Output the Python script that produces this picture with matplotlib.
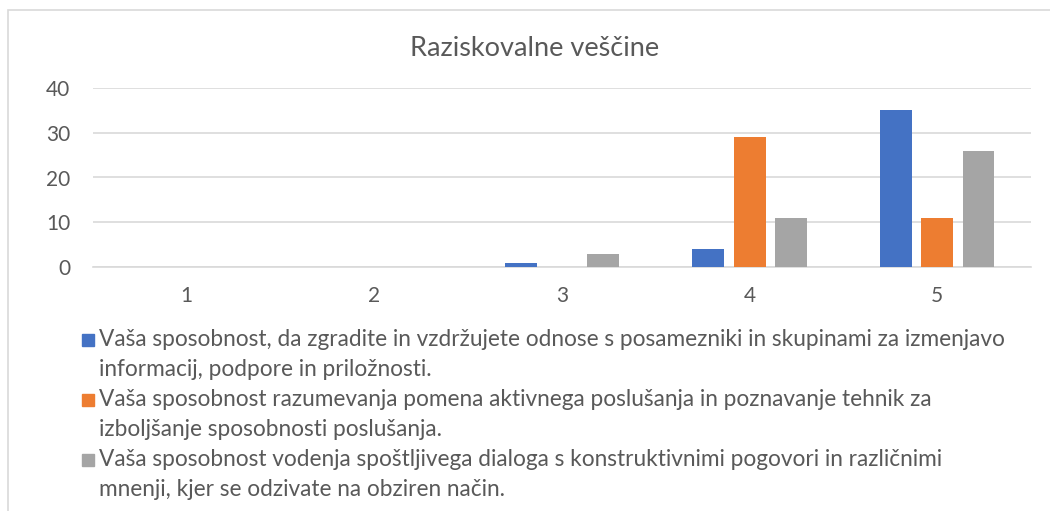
import matplotlib
matplotlib.use("Agg")
import matplotlib.pyplot as plt
import numpy as np
from matplotlib.patches import Rectangle

categories = ["1", "2", "3", "4", "5"]
series_labels = [
    "Vaša sposobnost, da zgradite in vzdržujete odnose s posamezniki in skupinami za izmenjavo\ninformacij, podpore in priložnosti.",
    "Vaša sposobnost razumevanja pomena aktivnega poslušanja in poznavanje tehnik za\nizboljšanje sposobnosti poslušanja.",
    "Vaša sposobnost vodenja spoštljivega dialoga s konstruktivnimi pogovori in različnimi\nmnenji, kjer se odzivate na obziren način.",
]
series_a = [0, 0, 1, 4, 35]
series_b = [0, 0, 0, 29, 11]
series_c = [0, 0, 3, 11, 26]
colors = ["#4472C4", "#ED7D31", "#A5A5A5"]
title = "Raziskovalne veščine"
yticks = [0, 10, 20, 30, 40]

plt.rcParams['font.family'] = ['Lato', 'DejaVu Sans']
txt = "#595959"

W, H = 1050, 511
fig = plt.figure(figsize=(W/100, H/100), dpi=100)
fig.patches.append(Rectangle((8/W, -0.5), 1.5, 1.5 - 10/H, transform=fig.transFigure,
                             fill=False, edgecolor="#D9D9D9", linewidth=1.2))

ax = fig.add_axes([93/W, 1 - 267/H, (1031-93)/W, (267-88)/H])
x = np.arange(len(categories))
bw = 0.17
off = 0.22
for i, vals in enumerate([series_a, series_b, series_c]):
    ax.bar(x + (i-1)*off, vals, width=bw, color=colors[i], zorder=3)

ax.set_xlim(-0.5, len(categories) - 0.5)
ax.set_ylim(0, 40)
ax.set_yticks(yticks)
ax.set_xticks(x)
ax.set_xticklabels(categories)
ax.yaxis.grid(True, color="#D9D9D9", linewidth=1.2, zorder=0)
for s in ["top", "right", "left"]:
    ax.spines[s].set_visible(False)
ax.spines["bottom"].set_color("#D9D9D9")
ax.spines["bottom"].set_linewidth(1.2)
ax.tick_params(axis="both", length=0, labelsize=15, colors=txt)
ax.tick_params(axis="y", pad=16.5)
ax.tick_params(axis="x", pad=14)

fig.text(535/W, 1 - 48/H, title, ha="center", va="center", fontsize=19.5, color=txt)

line_h = 30
y0 = 340
for i, lab in enumerate(series_labels):
    yy = y0 + i * 2 * line_h
    fig.patches.append(Rectangle((82/W, 1 - (yy+6)/H), 12/W, 12/H, transform=fig.transFigure,
                                 color=colors[i]))
    for j, ln in enumerate(lab.split("\n")):
        fig.text(99/W, 1 - (yy + j*line_h)/H, ln, ha="left", va="center", fontsize=16.3, color=txt)

fig.savefig("out.png", dpi=100)
